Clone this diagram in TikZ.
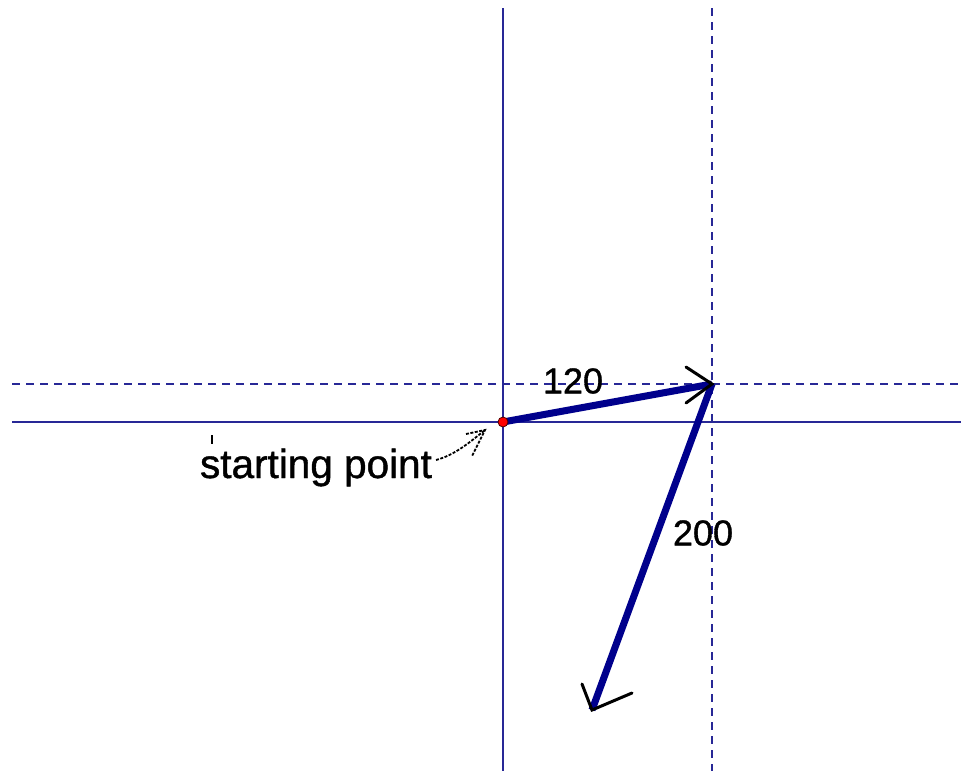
\documentclass[tikz,border=0pt]{standalone}
\usepackage{fontspec}
\setmainfont{Liberation Sans}
\definecolor{axisblue}{RGB}{40,40,150}
\definecolor{vecblue}{RGB}{0,0,140}
\begin{document}
\begin{tikzpicture}[x=1pt,y=-1pt,
  axis/.style={axisblue,line width=1.8pt},
  dashaxis/.style={axisblue,line width=1.8pt,dash pattern=on 8pt off 6pt},
  vec/.style={vecblue,line width=7pt},
  headstroke/.style={black,line width=3pt,line cap=round},
  lbl/.style={font=\fontsize{36}{40}\selectfont\addfontfeature{FakeBold=1},inner sep=0pt},
  biglbl/.style={font=\fontsize{40.5}{44}\selectfont\addfontfeature{FakeBold=1},inner sep=0pt}]
\useasboundingbox (0,0) rectangle (961,771);
\fill[white] (0,0) rectangle (961,771);
% axes
\coordinate (vt) at (503,8);   \coordinate (vb) at (503,771);
\coordinate (hl) at (12,422);  \coordinate (hr) at (961,422);
\coordinate (dvt) at (712,8);  \coordinate (dvb) at (712,771);
\coordinate (dhl) at (12,384); \coordinate (dhr) at (961,384);
\draw[axis] (vt) -- (vb);
\draw[axis] (hl) -- (hr);
\draw[dashaxis] (dvt) -- (dvb);
\draw[dashaxis] (dhl) -- (dhr);
% points
\coordinate (O) at (503,422);
\coordinate (A) at (712,384);
\coordinate (B) at (592,710);
% vectors
\draw[vec] (O) -- (A);
\draw[vec] (A) -- (B);
% arrow heads
\coordinate (a1) at (686,367); \coordinate (a2) at (686,403);
\draw[headstroke] (a1) -- (A) -- (a2);
\coordinate (b1) at (582,684); \coordinate (b2) at (632,693);
\draw[headstroke] (b1) -- (B) -- (b2);
% start dot
\node[circle,fill=red,draw=black!70!red,line width=0.8pt,inner sep=0pt,minimum size=10pt] (dot) at (O) {};
% labels
\node[lbl] (l120) at (573,381) {120};
\node[lbl] (l200) at (703,533) {200};
\node[biglbl,anchor=base] (sp) at (316,478) {starting point};
% little tick
\coordinate (t1) at (212,435); \coordinate (t2) at (212,444);
\draw[black,line width=1.5pt] (t1) -- (t2);
% pointer arrow
\coordinate (p0) at (436,460);
\coordinate (pt) at (485,430);
\draw[black,line width=1.8pt,dash pattern=on 3pt off 1.5pt] (p0) .. controls (455,455) and (470,442) .. (pt);
\coordinate (p1) at (466,434); \coordinate (p2) at (472,456);
\draw[black,line width=1.8pt,dash pattern=on 3pt off 1.5pt] (p1) -- (pt) -- (p2);
\end{tikzpicture}
\end{document}
